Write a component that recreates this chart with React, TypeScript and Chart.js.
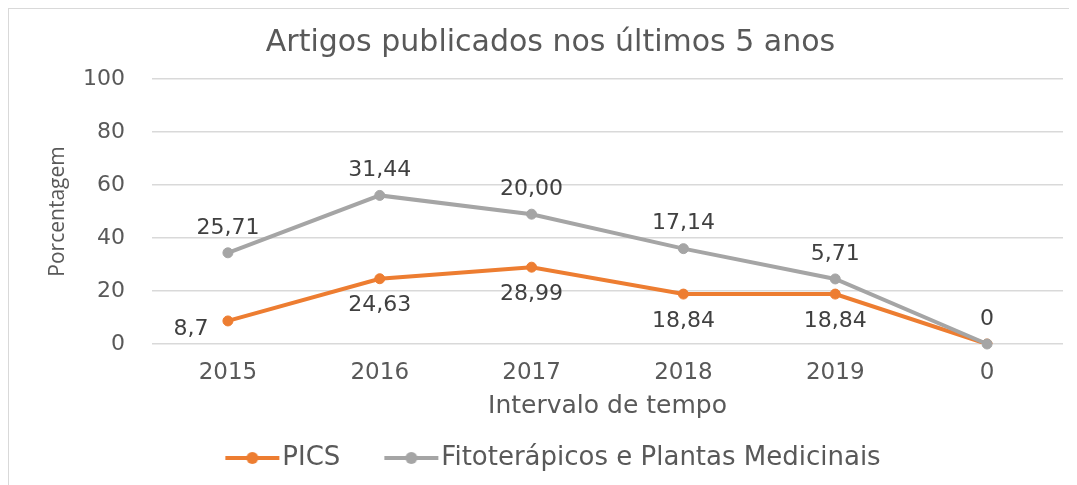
import React, { useEffect, useRef } from "react";
import { Chart, registerables } from "chart.js";

Chart.register(...registerables);

const categories = ["2015", "2016", "2017", "2018", "2019", "0"];
const picsValues = [8.7, 24.63, 28.99, 18.84, 18.84, 0];
const fitoValues = [25.71, 31.44, 20.0, 17.14, 5.71, 0];
const picsLabels = ["8,7", "24,63", "28,99", "18,84", "18,84", "0"];
const fitoLabels = ["25,71", "31,44", "20,00", "17,14", "5,71", "0"];
const seriesNames = ["PICS", "Fitoterápicos e Plantas Medicinais"];
const yMin = 0;
const yMax = 100;
const yStep = 20;

const ORANGE = "#ED7D31";
const GRAY = "#A5A5A5";
const TEXT = "#595959";
const LABEL = "#404040";
const FONT = "'DejaVu Sans', sans-serif";

const LEG_W = 49;
function legendImage(color: string): HTMLCanvasElement {
  const c = document.createElement("canvas");
  c.width = LEG_W + 24;
  c.height = 14;
  const g = c.getContext("2d")!;
  const x2 = c.width - 2;
  const x1 = x2 - 54;
  g.strokeStyle = color;
  g.lineWidth = 4;
  g.beginPath();
  g.moveTo(x1, 7);
  g.lineTo(x2, 7);
  g.stroke();
  g.fillStyle = color;
  g.beginPath();
  g.arc((x1 + x2) / 2, 7, 6, 0, Math.PI * 2);
  g.fill();
  return c;
}

const valueLabels = {
  id: "valueLabels",
  beforeDatasetDraw(_chart: any, args: any) {
    // the gray series is drawn afterwards so that it sits on top of the orange one
    if (args.index === 1) return false;
    return true;
  },
  afterDatasetsDraw(chart: any) {
    const ctx = chart.ctx;
    const grayMeta = chart.getDatasetMeta(1);
    ctx.save();
    grayMeta.controller.draw();
    ctx.restore();

    ctx.save();
    ctx.font = `22px ${FONT}`;
    ctx.fillStyle = LABEL;
    ctx.textAlign = "center";
    ctx.textBaseline = "middle";
    chart.data.datasets.forEach((_ds: any, di: number) => {
      const meta = chart.getDatasetMeta(di);
      const texts = di === 0 ? picsLabels : fitoLabels;
      meta.data.forEach((pt: any, i: number) => {
        let x = pt.x;
        let y = pt.y;
        if (di === 1) {
          y -= 25;
        } else {
          if (i === meta.data.length - 1) return;
          if (i === 0) {
            x -= 37;
            y += 8;
          } else {
            y += 27;
          }
        }
        ctx.fillText(texts[i], x, y);
      });
    });
    ctx.restore();
  },
};

export default function App() {
  const ref = useRef<HTMLCanvasElement | null>(null);
  useEffect(() => {
    if (!ref.current) return;
    document.documentElement.style.overflow = "hidden";
    document.body.style.overflow = "hidden";
    const imgs = [legendImage(ORANGE), legendImage(GRAY)];
    const chart = new Chart(ref.current, {
      type: "line",
      data: {
        labels: categories,
        datasets: [
          {
            label: seriesNames[0],
            data: picsValues,
            borderColor: ORANGE,
            backgroundColor: ORANGE,
            borderWidth: 4,
            pointRadius: 5,
            pointBorderWidth: 1,
            fill: false,
            tension: 0,
          },
          {
            label: seriesNames[1],
            data: fitoValues,
            borderColor: GRAY,
            backgroundColor: GRAY,
            borderWidth: 4,
            pointRadius: 5,
            pointBorderWidth: 1,
            fill: false,
            tension: 0,
          },
        ],
      },
      options: {
        responsive: false,
        animation: false,
        layout: { padding: { left: 15, right: 0, top: 0, bottom: 4 } },
        plugins: {
          title: {
            display: true,
            text: "Artigos publicados nos últimos 5 anos",
            color: TEXT,
            font: { family: FONT, size: 30, weight: "normal" },
            padding: { top: 16, bottom: 18 },
          },
          legend: {
            position: "bottom",
            labels: {
              usePointStyle: true,
              pointStyleWidth: LEG_W,
              padding: 39,
              color: TEXT,
              font: { family: FONT, size: 26 },
              generateLabels: (c: any) => {
                const items = Chart.defaults.plugins.legend.labels.generateLabels(c);
                return items.map((it: any, i: number) => ({ ...it, pointStyle: imgs[i] }));
              },
            },
          },
          tooltip: { enabled: false },
        },
        scales: {
          x: {
            offset: true,
            grid: { display: false, drawTicks: false },
            border: { display: false },
            ticks: { color: TEXT, font: { family: FONT, size: 23 }, padding: 15 },
            title: {
              display: true,
              text: "Intervalo de tempo",
              color: TEXT,
              font: { family: FONT, size: 25 },
              padding: { top: 0, bottom: -15 },
            },
            afterFit: (s: any) => {
              s.height = 62;
            },
          },
          y: {
            stacked: true,
            min: yMin,
            max: yMax,
            grid: { color: "#D9D9D9", lineWidth: 1.5, drawTicks: false },
            border: { display: false },
            ticks: {
              stepSize: yStep,
              color: TEXT,
              font: { family: FONT, size: 22 },
              padding: 27,
            },
            title: {
              display: true,
              text: "Porcentagem",
              color: TEXT,
              font: { family: "'Open Sans', sans-serif", size: 21 },
              padding: { top: 21, bottom: 0 },
            },
            afterFit: (s: any) => {
              s.width = 128;
            },
          },
          yRight: {
            position: "right",
            display: true,
            grid: { display: false, drawTicks: false },
            border: { display: false },
            ticks: { display: false },
            afterFit: (s: any) => {
              s.width = 14;
            },
          },
        },
      },
      plugins: [valueLabels],
    });
    return () => chart.destroy();
  }, []);
  return (
    <div
      style={{
        width: 1069,
        height: 477,
        borderTop: "1px solid #D9D9D9",
        borderLeft: "1px solid #D9D9D9",
        boxSizing: "border-box",
        background: "#fff",
        overflow: "hidden",
      }}
    >
      <canvas ref={ref} width={1068} height={476} style={{ display: "block" }} />
    </div>
  );
}
